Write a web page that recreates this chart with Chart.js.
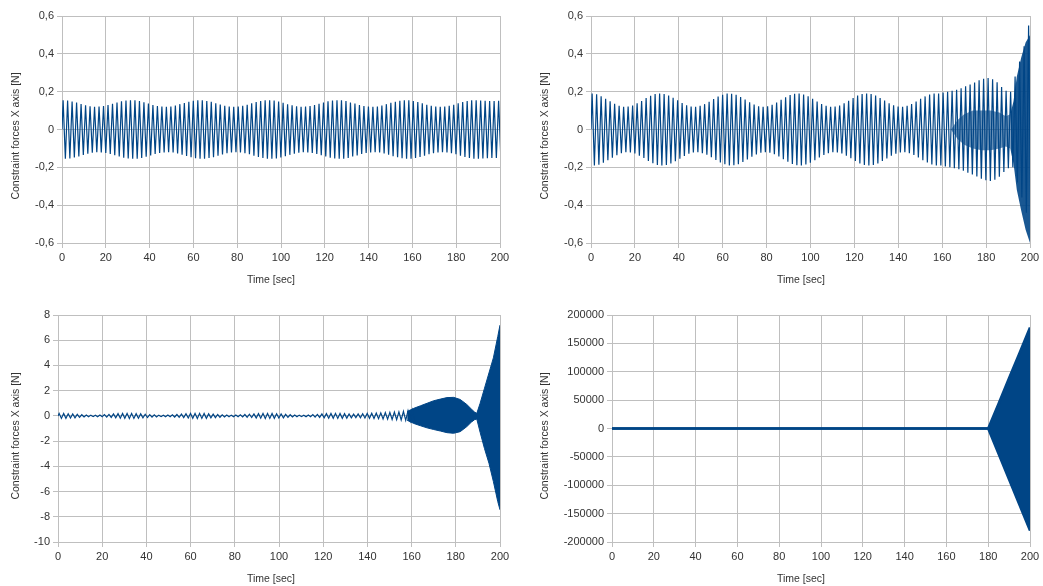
<!DOCTYPE html>
<html>
<head>
<meta charset="utf-8">
<title>Constraint forces X axis</title>
<script src="https://cdn.jsdelivr.net/npm/chart.js@4.4.1/dist/chart.umd.min.js"></script>
<style>
  body { margin: 0; background: #fff; width: 1043px; height: 586px; overflow: hidden; position: relative;
         font-family: "Liberation Sans", Arial, sans-serif; }
  canvas { position: absolute; }
  .ytitle, .xtitle { position: absolute; font-size: 10.5px; color: #333; white-space: nowrap; }
  .ytitle { transform: translate(-50%, -50%) rotate(-90deg); }
  .xtitle { transform: translate(-50%, -50%); }
</style>
</head>
<body>
<canvas id="c1" width="521" height="290" style="left:0;top:0"></canvas>
<canvas id="c2" width="522" height="290" style="left:521px;top:0"></canvas>
<canvas id="c3" width="521" height="296" style="left:0;top:290px"></canvas>
<canvas id="c4" width="522" height="296" style="left:521px;top:290px"></canvas>

<div class="ytitle" style="left:15px;top:136px">Constraint forces X axis [N]</div>
<div class="ytitle" style="left:544px;top:136px">Constraint forces X axis [N]</div>
<div class="ytitle" style="left:15px;top:436px">Constraint forces X axis [N]</div>
<div class="ytitle" style="left:544px;top:436px">Constraint forces X axis [N]</div>
<div class="xtitle" style="left:271px;top:279px">Time [sec]</div>
<div class="xtitle" style="left:801px;top:279px">Time [sec]</div>
<div class="xtitle" style="left:271px;top:578px">Time [sec]</div>
<div class="xtitle" style="left:801px;top:578px">Time [sec]</div>

<script>
// Oscillation period in seconds (about 97 cycles over 200 s)
const PERIOD = 2.05;

// Peak amplitude of each cycle, top-left chart [N]
const p1Amp = [
  0.155, 0.153, 0.148, 0.142, 0.135, 0.128, 0.123, 0.120, 0.121, 0.124, 0.129, 0.136, 0.143, 0.149, 0.153, 0.155,
  0.154, 0.150, 0.144, 0.137, 0.130, 0.124, 0.121, 0.120, 0.122, 0.127, 0.134, 0.140, 0.147, 0.152, 0.155, 0.155,
  0.151, 0.146, 0.139, 0.132, 0.126, 0.122, 0.120, 0.121, 0.125, 0.131, 0.138, 0.145, 0.151, 0.154, 0.155, 0.153,
  0.148, 0.141, 0.134, 0.128, 0.123, 0.120, 0.121, 0.124, 0.129, 0.136, 0.143, 0.149, 0.153, 0.155, 0.154, 0.150,
  0.143, 0.137, 0.130, 0.124, 0.121, 0.120, 0.122, 0.127, 0.134, 0.141, 0.147, 0.152, 0.155, 0.155, 0.151, 0.145,
  0.138, 0.131, 0.125, 0.121, 0.120, 0.121, 0.125, 0.131, 0.138, 0.145, 0.151, 0.154, 0.155, 0.153, 0.152, 0.150, 0.150, 0.152
];

// Top-right chart
const p2Amp = [
  0.190, 0.186, 0.176, 0.163, 0.149, 0.136, 0.126, 0.120, 0.121, 0.127, 0.138, 0.151, 0.166, 0.178, 0.187, 0.190,
  0.188, 0.180, 0.168, 0.154, 0.140, 0.128, 0.122, 0.120, 0.125, 0.134, 0.147, 0.161, 0.174, 0.184, 0.190, 0.189,
  0.183, 0.172, 0.158, 0.144, 0.132, 0.123, 0.120, 0.123, 0.131, 0.143, 0.157, 0.170, 0.182, 0.189, 0.190, 0.185,
  0.176, 0.163, 0.148, 0.135, 0.125, 0.120, 0.121, 0.127, 0.138, 0.152, 0.167, 0.179, 0.187, 0.190, 0.187, 0.179,
  0.167, 0.153, 0.139, 0.128, 0.121, 0.120, 0.125, 0.135, 0.148, 0.162, 0.175, 0.185,
  0.190, 0.190, 0.195, 0.200, 0.205, 0.210, 0.218, 0.228, 0.238, 0.248, 0.260, 0.268, 0.272, 0.265, 0.250, 0.225,
  0.205, 0.200, 0.280, 0.360, 0.440, 0.550
];
// dense high-frequency part of top-right chart: inner lens, then the final burst
const p2LensTime  = [164, 167, 170, 174, 178, 182, 186, 189, 191];
const p2LensUpper = [0.0, 0.05, 0.08, 0.10, 0.10, 0.10, 0.09, 0.07, 0.08];
const p2LensLower = [0.0, -0.05, -0.08, -0.10, -0.11, -0.11, -0.10, -0.09, -0.10];
const p2BurstTime  = [191, 192.5, 194, 196, 198, 200];
const p2BurstUpper = [0.08, 0.15, 0.28, 0.38, 0.46, 0.50];
const p2BurstLower = [-0.10, -0.18, -0.32, -0.43, -0.53, -0.60];

// Bottom-left chart
const p3Amp = [
  0.20, 0.19, 0.17, 0.15, 0.12, 0.09, 0.07, 0.06, 0.06, 0.07, 0.10, 0.12, 0.15, 0.18, 0.19, 0.20,
  0.20, 0.18, 0.16, 0.13, 0.10, 0.08, 0.06, 0.06, 0.07, 0.09, 0.11, 0.14, 0.17, 0.19, 0.20, 0.20,
  0.19, 0.16, 0.14, 0.11, 0.08, 0.07, 0.06, 0.07, 0.08, 0.11, 0.13, 0.16, 0.18, 0.20, 0.20, 0.19,
  0.17, 0.15, 0.12, 0.09, 0.07, 0.06, 0.06, 0.07, 0.10, 0.12, 0.15, 0.18, 0.19, 0.20, 0.19, 0.18,
  0.15, 0.14, 0.15, 0.17, 0.19, 0.21, 0.22, 0.24, 0.26, 0.28, 0.30, 0.32, 0.35, 0.40, 0.45
];
const p3BandTime  = [158, 161, 164, 167, 170, 173, 176, 179, 182, 185, 187, 188.5, 189.5, 191, 193, 195, 197, 199, 200];
const p3BandUpper = [0.35, 0.6, 0.8, 1.0, 1.2, 1.33, 1.45, 1.47, 1.3, 0.9, 0.55, 0.3, 0.2, 1.0, 2.2, 3.4, 4.6, 6.3, 7.2];
const p3BandLower = [-0.35, -0.6, -0.78, -0.95, -1.08, -1.2, -1.33, -1.38, -1.25, -0.85, -0.5, -0.3, -0.25, -1.3, -2.6, -3.75, -5.2, -6.8, -7.45];

// Bottom-right chart
const p4Time  = [0, 180, 185, 190, 195, 200];
const p4Upper = [0, 0, 44000, 89000, 133000, 178000];
const p4Lower = [0, 0, -45000, -90000, -135000, -180000];

const BLUE = '#004586';
const GRID = '#bfbfbf';
const TEXT = '#333';

function waveData(amps) {
  const pts = [{ x: 0, y: 0 }];
  amps.forEach((a, k) => {
    pts.push({ x: (k + 0.25) * PERIOD, y: a });
    pts.push({ x: (k + 0.75) * PERIOD, y: -a });
  });
  return pts;
}

function waveSet(amps) {
  return { data: waveData(amps), borderColor: BLUE, borderWidth: 1.2, fill: false };
}

function bandSets(time, upper, lower, color, width, edge) {
  return [
    { data: time.map((t, i) => ({ x: t, y: upper[i] })), borderColor: edge, backgroundColor: color, borderWidth: width, fill: '+1' },
    { data: time.map((t, i) => ({ x: t, y: lower[i] })), borderColor: edge, borderWidth: width, fill: false }
  ];
}

function decimalComma(v) {
  if (Math.abs(v) < 1e-9) return '0';
  return v.toFixed(1).replace('.', ',');
}

function makeChart(id, cfg) {
  const tickFont = { family: '"Liberation Sans", Arial, sans-serif', size: 11 };
  return new Chart(document.getElementById(id), {
    type: 'line',
    data: { datasets: cfg.datasets },
    options: {
      responsive: false,
      animation: false,
      parsing: false,
      layout: { padding: { top: cfg.top, right: cfg.right, bottom: 0, left: 0 } },
      plugins: { legend: { display: false }, tooltip: { enabled: false } },
      elements: { point: { radius: 0 }, line: { tension: 0 } },
      scales: {
        x: {
          type: 'linear', min: 0, max: 200,
          ticks: { stepSize: 20, color: TEXT, font: tickFont, padding: 3, maxRotation: 0, autoSkip: false },
          grid: { color: GRID, tickLength: 5 },
          border: { color: GRID },
          afterFit: s => { s.height = cfg.xHeight; }
        },
        y: {
          min: cfg.min, max: cfg.max,
          ticks: { stepSize: cfg.step, color: TEXT, font: tickFont, padding: 3, callback: cfg.fmt },
          grid: { color: GRID, tickLength: 5 },
          border: { color: GRID },
          afterFit: s => { s.width = cfg.yWidth; }
        }
      }
    }
  });
}

makeChart('c1', {
  datasets: [waveSet(p1Amp)],
  top: 16, right: 21, xHeight: 47, yWidth: 62,
  min: -0.6, max: 0.6, step: 0.2, fmt: decimalComma
});

makeChart('c2', {
  datasets: [
    waveSet(p2Amp),
    ...bandSets(p2LensTime, p2LensUpper, p2LensLower, 'rgba(0,69,134,0.6)', 0, 'rgba(0,0,0,0)'),
    ...bandSets(p2BurstTime, p2BurstUpper, p2BurstLower, 'rgba(0,69,134,0.9)', 0, 'rgba(0,0,0,0)')
  ],
  top: 16, right: 13, xHeight: 47, yWidth: 70,
  min: -0.6, max: 0.6, step: 0.2, fmt: decimalComma
});

makeChart('c3', {
  datasets: [waveSet(p3Amp), ...bandSets(p3BandTime, p3BandUpper, p3BandLower, BLUE, 1, BLUE)],
  top: 25, right: 21, xHeight: 44, yWidth: 58,
  min: -10, max: 8, step: 2, fmt: v => String(Math.round(v))
});

makeChart('c4', {
  datasets: bandSets(p4Time, p4Upper, p4Lower, BLUE, 2.5, BLUE),
  top: 25, right: 13, xHeight: 44, yWidth: 91,
  min: -200000, max: 200000, step: 50000, fmt: v => String(Math.round(v))
});
</script>
</body>
</html>
